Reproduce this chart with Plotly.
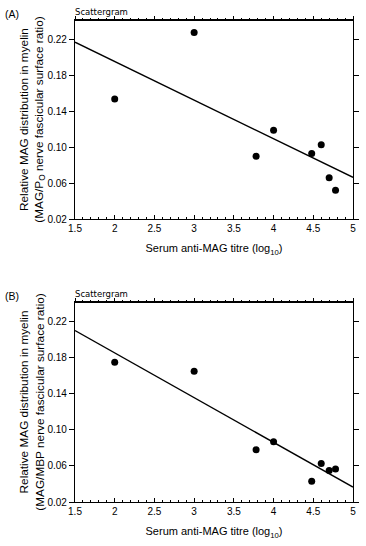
import numpy as np
import plotly.graph_objects as go

# Data
titre_log10 = [2.0, 3.0, 3.78, 4.0, 4.48, 4.6, 4.7, 4.78]
mag_po_ratio = [0.154, 0.228, 0.090, 0.119, 0.093, 0.103, 0.066, 0.052]
mag_mbp_ratio = [0.175, 0.165, 0.078, 0.087, 0.043, 0.0626, 0.0549, 0.0567]
y_ticks = [0.02, 0.06, 0.10, 0.14, 0.18, 0.22]
x_ticks = [1.5, 2, 2.5, 3, 3.5, 4, 4.5, 5]
x_range = [1.5, 5]
y_range = [0.02, 0.242]

FONT = "Liberation Sans, Arial, sans-serif"

fig = go.Figure()

def fit_line(x, y):
    k, b = np.polyfit(x, y, 1)
    xs = np.array(x_range)
    return xs, k * xs + b

panels = [
    ("x", "y", "x3", mag_po_ratio),
    ("x2", "y2", "x4", mag_mbp_ratio),
]
for xa, ya, xt, vals in panels:
    lx, ly = fit_line(titre_log10, vals)
    fig.add_trace(go.Scatter(x=lx, y=ly, mode="lines", xaxis=xa, yaxis=ya,
                             line=dict(color="black", width=1.4),
                             showlegend=False, hoverinfo="skip"))
    fig.add_trace(go.Scatter(x=titre_log10, y=vals, mode="markers", xaxis=xa, yaxis=ya,
                             marker=dict(color="black", size=7),
                             showlegend=False))
    # transparent trace so the top tick axis is drawn
    fig.add_trace(go.Scatter(x=x_range, y=y_range, mode="markers", xaxis=xt, yaxis=ya,
                             marker=dict(color="rgba(0,0,0,0)", size=1), showlegend=False,
                             hoverinfo="skip"))

xtitle = "Serum anti-MAG titre (log<sub>10</sub>)"
common_x = dict(range=x_range, tickvals=x_ticks, ticktext=[str(v) for v in x_ticks],
                ticks="inside", ticklen=4, tickwidth=1, tickcolor="black",
                showline=True, linecolor="black", linewidth=1.3, mirror=True,
                showgrid=False, zeroline=False,
                tickfont=dict(family=FONT, size=10, color="black"),
                minor=dict(dtick=0.1, tick0=1.5, ticks="inside", ticklen=2, tickcolor="black", showgrid=False),
                title=dict(text=xtitle, font=dict(family=FONT, size=11, color="black"), standoff=11))
common_top = dict(range=x_range, tickvals=x_ticks, ticks="outside", ticklen=4, tickwidth=1,
                  tickcolor="black", showticklabels=False, showline=True, linecolor="black",
                  linewidth=1.3, showgrid=False, zeroline=False, side="top",
                  minor=dict(dtick=0.1, tick0=1.5, ticks="outside", ticklen=2, tickcolor="black", showgrid=False))
common_y = dict(range=y_range, tickvals=y_ticks, tickformat=".2f",
                ticks="outside", ticklen=5, tickwidth=1, tickcolor="black",
                showline=True, linecolor="black", linewidth=1.3, mirror="ticks",
                showgrid=False, zeroline=False,
                tickfont=dict(family=FONT, size=10, color="black"))

dom_a = [0.587, 1.0]
dom_b = [0.0, 0.415]
yt_font = dict(family=FONT, size=11.8, color="black")
fig.update_layout(
    width=366, height=546,
    margin=dict(l=75, r=7, t=20, b=44),
    paper_bgcolor="white", plot_bgcolor="white",
    xaxis=dict(common_x, domain=[0, 1], anchor="y"),
    xaxis3=dict(common_top, overlaying="x", anchor="free", position=dom_a[1]),
    yaxis=dict(common_y, domain=dom_a, anchor="x",
               title=dict(text="Relative MAG distribution in myelin<br>(MAG/P<sub>O</sub> nerve fascicular surface ratio)",
                          font=yt_font, standoff=0)),
    xaxis2=dict(common_x, domain=[0, 1], anchor="y2"),
    xaxis4=dict(common_top, overlaying="x2", anchor="free", position=dom_b[1]),
    yaxis2=dict(common_y, domain=dom_b, anchor="x2",
                title=dict(text="Relative MAG distribution in myelin<br>(MAG/MBP nerve fascicular surface ratio)",
                           font=yt_font, standoff=0)),
)

ann_font_big = dict(family=FONT, size=10.5, color="black")
ann_font_small = dict(family="DejaVu Sans, sans-serif", size=8.5, color="black")
for label, ydom in [("(A)", dom_a), ("(B)", dom_b)]:
    fig.add_annotation(text=label, xref="paper", yref="paper", x=-0.26, y=ydom[1],
                       xanchor="left", yanchor="bottom", yshift=-2, showarrow=False, font=ann_font_big)
    fig.add_annotation(text="Scattergram", xref="paper", yref="paper", x=0.0, y=ydom[1],
                       xanchor="left", yanchor="bottom", yshift=1, xshift=-2, showarrow=False,
                       font=ann_font_small)

fig.write_html("out.html")
